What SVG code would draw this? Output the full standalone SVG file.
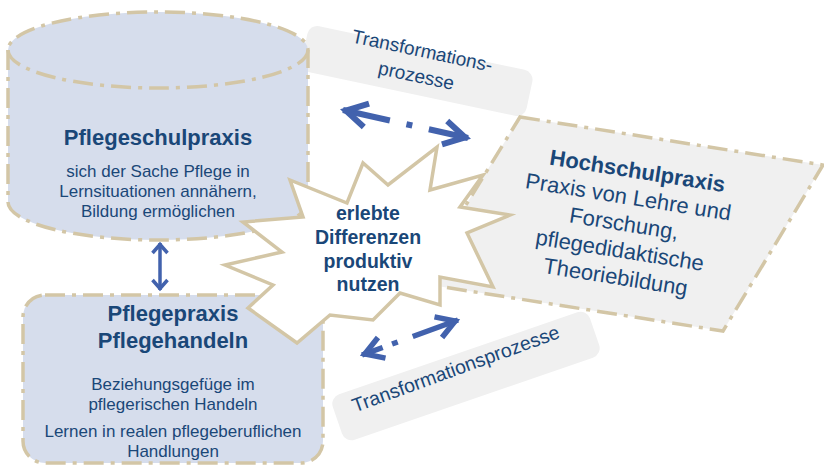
<svg xmlns="http://www.w3.org/2000/svg" width="824" height="466" viewBox="0 0 824 466">
  <defs>
    <style>
      .t { font-family: "Liberation Sans", Arial, sans-serif; fill: #1a4778; }
      .b { font-weight: bold; }
      .tan { fill: none; stroke: #d3c6a6; stroke-width: 3.5; stroke-dasharray: 20 7 4 7; }
      .blue { fill: #d6ddec; }
      .grey { fill: #f0f0f0; }
      .arr { fill: none; stroke: #4262ad; }
    </style>
    <marker id="hBig" markerUnits="userSpaceOnUse" viewBox="-32 -18 40 36" markerWidth="40" markerHeight="36" refX="0" refY="0" orient="auto-start-reverse">
      <path d="M-24,-12 L-3,0 L-24,12" fill="none" stroke="#4262ad" stroke-width="6"/>
    </marker>
    <marker id="hMid" markerUnits="userSpaceOnUse" viewBox="-30 -16 36 32" markerWidth="36" markerHeight="32" refX="0" refY="0" orient="auto-start-reverse">
      <path d="M-21,-11 L-3,0 L-21,11" fill="none" stroke="#4262ad" stroke-width="5.5"/>
    </marker>
    <marker id="hSmall" markerUnits="userSpaceOnUse" viewBox="-14 -10 18 20" markerWidth="18" markerHeight="20" refX="0" refY="0" orient="auto-start-reverse">
      <path d="M-10,-7.5 L-1.5,0 L-10,7.5" fill="none" stroke="#4262ad" stroke-width="3.5"/>
    </marker>
  </defs>
  <rect width="824" height="466" fill="#ffffff"/>

  <!-- upper transformation label -->
  <g id="transform-top">
    <rect class="grey" x="302" y="47.5" width="230" height="47" rx="10" transform="rotate(12 417 71)"/>
    <text class="t" font-size="19" text-anchor="middle" transform="translate(421,57) rotate(12)">Transformations-</text>
    <text class="t" font-size="19" text-anchor="middle" transform="translate(415,82) rotate(12)">prozesse</text>
  </g>

  <!-- lower transformation label -->
  <g id="transform-bottom">
    <rect class="grey" x="330" y="352" width="272" height="48" rx="10" transform="rotate(-19 466 376)"/>
    <text class="t" font-size="19.5" text-anchor="middle" transform="translate(458,375) rotate(-20)">Transformationsprozesse</text>
  </g>

  <!-- Hochschulpraxis parallelogram -->
  <g id="hochschulpraxis">
    <path class="grey" d="M520,117 L823,165 L723,331 L418,283 Z"/>
    <path class="tan" d="M520,117 L823,165 L723,331 L418,283 Z"/>
    <g class="t" font-size="22" text-anchor="middle" transform="translate(624,224) rotate(9)">
      <text class="b" x="5" y="-47">Hochschulpraxis</text>
      <text x="0" y="-20">Praxis von Lehre und</text>
      <text x="0" y="7">Forschung,</text>
      <text x="0" y="34">pflegedidaktische</text>
      <text x="0" y="61">Theoriebildung</text>
    </g>
  </g>

  <!-- Pflegeschulpraxis cylinder -->
  <g id="pflegeschulpraxis">
    <path class="blue" d="M8,50 L8,202 A150,38 0 0 0 308,202 L308,50 A150,38 0 0 0 8,50 Z"/>
    <path class="tan" d="M8,50 L8,202 A150,38 0 0 0 308,202 L308,50 A150,38 0 0 0 8,50 Z"/>
    <path class="tan" d="M8,50 A150,38 0 0 0 308,50"/>
    <text class="t b" x="158" y="145" font-size="22" text-anchor="middle">Pflegeschulpraxis</text>
    <g class="t" font-size="17" text-anchor="middle">
      <text x="158" y="177">sich der Sache Pflege in</text>
      <text x="158" y="197">Lernsituationen annähern,</text>
      <text x="158" y="217">Bildung ermöglichen</text>
    </g>
  </g>

  <!-- Pflegepraxis box -->
  <g id="pflegepraxis">
    <rect class="blue" x="23" y="295" width="300" height="168" rx="22"/>
    <rect class="tan" x="23" y="295" width="300" height="168" rx="22"/>
    <g class="t b" font-size="22" text-anchor="middle">
      <text x="173" y="321">Pflegepraxis</text>
      <text x="173" y="348">Pflegehandeln</text>
    </g>
    <g class="t" font-size="17" text-anchor="middle">
      <text x="173" y="390">Beziehungsgefüge im</text>
      <text x="173" y="410">pflegerischen Handeln</text>
      <text x="173" y="437">Lernen in realen pflegeberuflichen</text>
      <text x="173" y="457">Handlungen</text>
    </g>
  </g>

  <!-- central explosion -->
  <g id="differenzen">
    <path d="M290,180 L347,203 L363,163 L388,185 L437,147 L430,190 L483,175 L460,207 L510,215 L467,233 L493,287 L440,277 L440,305 L400,293 L373,320 L330,315 L297,343 L248,308 L273,285 L225,265 L282,252 L243,222 L303,217 Z" fill="#ffffff" stroke="#d3c6a6" stroke-width="3.5" stroke-linejoin="miter"/>
    <g class="t b" font-size="19.5" text-anchor="middle">
      <text x="368" y="220">erlebte</text>
      <text x="368" y="244">Differenzen</text>
      <text x="368" y="268">produktiv</text>
      <text x="368" y="291">nutzen</text>
    </g>
  </g>

  <!-- connectors -->
  <g id="connectors">
    <line class="arr" x1="160" y1="243" x2="160" y2="290" stroke-width="3.5" marker-start="url(#hSmall)" marker-end="url(#hSmall)"/>
    <line class="arr" x1="343" y1="110" x2="468" y2="138" stroke-width="6" stroke-dasharray="48 17 6 17 60" marker-start="url(#hBig)" marker-end="url(#hBig)"/>
    <line class="arr" x1="362" y1="355" x2="458" y2="320" stroke-width="5.5" stroke-dasharray="22 10 6 16 60" marker-start="url(#hMid)" marker-end="url(#hMid)"/>
  </g>
</svg>
